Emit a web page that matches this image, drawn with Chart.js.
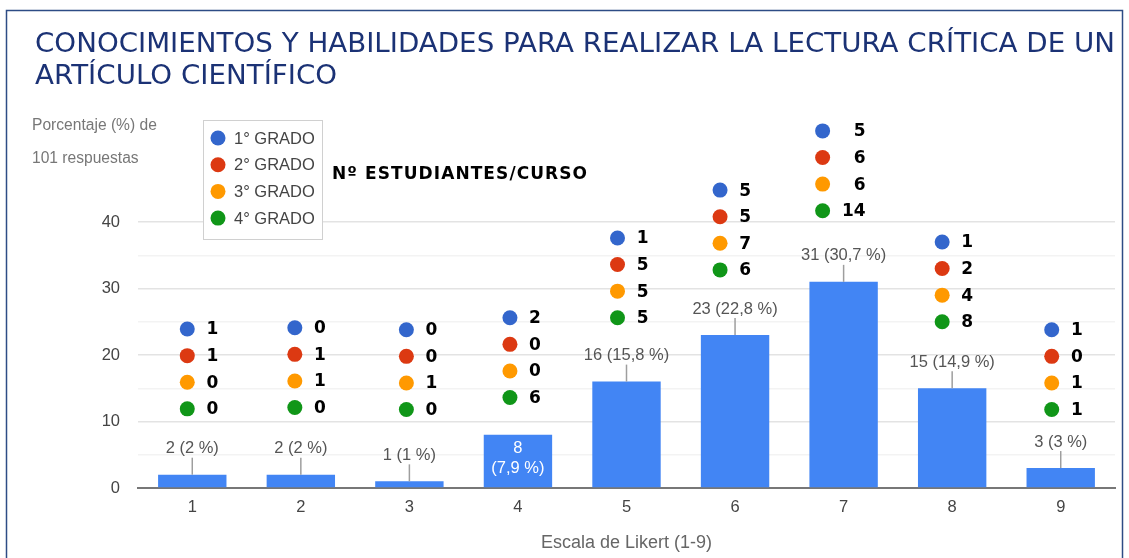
<!DOCTYPE html>
<html lang="es">
<head>
  <meta charset="UTF-8">
  <title>Lectura crítica de un artículo científico</title>
  <script src="https://cdn.jsdelivr.net/npm/chart.js"></script>
  <style>
    html, body { margin: 0; padding: 0; background: #fff; }
    #wrap { width: 1129px; height: 558px; }
  </style>
</head>
<body>
  <div id="wrap"><canvas id="chart" width="1129" height="558"></canvas></div>

  <script>
    // Data
    const categories = ['1', '2', '3', '4', '5', '6', '7', '8', '9'];
    const counts = [2, 2, 1, 8, 16, 23, 31, 15, 3];
    const percents = ['2', '2', '1', '7,9', '15,8', '22,8', '30,7', '14,9', '3'];
    const grado1 = [1, 0, 0, 2, 1, 5, 5, 1, 1];
    const grado2 = [1, 1, 0, 0, 5, 5, 6, 2, 0];
    const grado3 = [0, 1, 1, 0, 5, 7, 6, 4, 1];
    const grado4 = [0, 0, 0, 6, 5, 6, 14, 8, 1];
    const gradoLabels = ['1° GRADO', '2° GRADO', '3° GRADO', '4° GRADO'];
    const yTickValues = [0, 10, 20, 30, 40];

    // Layout of the per-course dot groups (top row in axis units, nudges in px)
    const groupTop = [23.9, 24.1, 23.8, 25.6, 37.6, 44.8, 53.7, 37.0, 23.8];
    const groupDx = [-5, -6, -3, -8, -9, -15, -21, -10, -9];
    const numEdge = [31, 31, 31, 31, 31, 31, 43, 31, 31];
    const labelInside = [false, false, false, true, false, false, false, false, false];

    const gradoColors = ['#3366cc', '#dc3912', '#ff9900', '#109618'];
    const barColor = '#4285f4';
    const titleLines = [
      'CONOCIMIENTOS Y HABILIDADES PARA REALIZAR LA LECTURA CRÍTICA DE UN',
      'ARTÍCULO CIENTÍFICO'
    ];
    const arial = '"Liberation Sans", Arial, sans-serif';
    const verdana = '"DejaVu Sans", Verdana, sans-serif';

    const overlay = {
      id: 'overlay',
      afterDraw(chart) {
        const ctx = chart.ctx;
        const xs = chart.scales.x, ys = chart.scales.y;
        ctx.save();

        // frame
        ctx.strokeStyle = '#2d4c85';
        ctx.lineWidth = 1.5;
        ctx.strokeRect(6.5, 10.5, 1116, 560);

        // title: tall and a bit narrow, squeezed to the reference width
        ctx.font = '26px ' + verdana;
        const w = ctx.measureText(titleLines[0]).width;
        const sx = 1080 / w;
        ctx.fillStyle = '#1b3275';
        ctx.textAlign = 'left';
        ctx.textBaseline = 'alphabetic';
        ctx.save();
        ctx.translate(35, 0);
        ctx.scale(sx, 1);
        ctx.fillText(titleLines[0], 0, 52);
        ctx.fillText(titleLines[1], 0, 84);
        ctx.restore();
        ctx.textBaseline = 'middle';

        // y axis caption
        ctx.font = '15.6px ' + arial;
        ctx.fillStyle = '#777';
        ctx.fillText('Porcentaje (%) de', 32, 126);
        ctx.fillText('101 respuestas', 32, 159);

        // bar value labels
        categories.forEach((c, i) => {
          const cx = xs.getPixelForValue(i);
          const top = ys.getPixelForValue(counts[i]);
          ctx.textAlign = 'center';
          ctx.font = '16.5px ' + arial;
          if (labelInside[i]) {
            ctx.fillStyle = '#fff';
            ctx.fillText(String(counts[i]), cx, top + 14);
            ctx.fillText('(' + percents[i] + ' %)', cx, top + 34);
          } else {
            ctx.strokeStyle = '#9e9e9e';
            ctx.lineWidth = 1.5;
            ctx.beginPath();
            ctx.moveTo(cx, top - 17);
            ctx.lineTo(cx, top);
            ctx.stroke();
            ctx.fillStyle = '#555';
            ctx.fillText(counts[i] + ' (' + percents[i] + ' %)', cx, top - 26);
          }
        });

        // dot groups: students per course
        const grados = [grado1, grado2, grado3, grado4];
        categories.forEach((c, i) => {
          const dx = xs.getPixelForValue(i) + groupDx[i];
          grados.forEach((g, r) => {
            const y = ys.getPixelForValue(groupTop[i] - r * 4);
            ctx.fillStyle = gradoColors[r];
            ctx.beginPath();
            ctx.arc(dx, y, 7.5, 0, Math.PI * 2);
            ctx.fill();
            ctx.fillStyle = '#000';
            ctx.font = 'bold 17px ' + verdana;
            ctx.textAlign = 'right';
            ctx.fillText(String(g[i]), dx + numEdge[i], y + 1);
          });
        });

        // legend box
        ctx.fillStyle = '#fff';
        ctx.fillRect(203, 120, 119, 119);
        ctx.strokeStyle = '#d0d0d0';
        ctx.lineWidth = 1;
        ctx.strokeRect(203.5, 120.5, 119, 119);
        gradoLabels.forEach((lab, r) => {
          const y = 138 + r * 26.7;
          ctx.fillStyle = gradoColors[r];
          ctx.beginPath();
          ctx.arc(218, y, 7.5, 0, Math.PI * 2);
          ctx.fill();
          ctx.fillStyle = '#444';
          ctx.font = '16.5px ' + arial;
          ctx.textAlign = 'left';
          ctx.fillText(lab, 234, y + 1);
        });

        // group caption
        const cap = 'Nº ESTUDIANTES/CURSO';
        ctx.font = 'bold 17px ' + verdana;
        const cw = ctx.measureText(cap).width;
        ctx.letterSpacing = Math.max(0, (255 - cw) / (cap.length - 1)).toFixed(2) + 'px';
        ctx.fillStyle = '#000';
        ctx.textAlign = 'left';
        ctx.fillText(cap, 332, 175);
        ctx.letterSpacing = '0px';

        ctx.restore();
      }
    };

    new Chart(document.getElementById('chart'), {
      type: 'bar',
      data: {
        labels: categories,
        datasets: [{
          data: counts,
          backgroundColor: barColor,
          barPercentage: 0.63,
          categoryPercentage: 1
        }]
      },
      options: {
        responsive: false,
        animation: false,
        layout: { padding: { top: 222, right: 14, bottom: 0, left: 0 } },
        plugins: { legend: { display: false }, tooltip: { enabled: false } },
        scales: {
          x: {
            afterFit: s => { s.height = 70; },
            grid: { display: false, drawTicks: false },
            border: { display: true, color: '#777', width: 2 },
            ticks: { color: '#444', font: { family: arial, size: 16.5 }, padding: 10 },
            title: {
              display: true,
              text: 'Escala de Likert (1-9)',
              color: '#666',
              font: { family: arial, size: 18 },
              padding: { top: 0, bottom: 4 }
            }
          },
          y: {
            min: 0,
            max: 40,
            afterFit: s => { s.width = 138; },
            afterBuildTicks: s => {
              s.ticks = [0, 5, 10, 15, 20, 25, 30, 35, 40].map(v => ({ value: v }));
            },
            grid: {
              drawTicks: false,
              color: c => c.tick.value === 0 ? 'rgba(0,0,0,0)' :
                (yTickValues.includes(c.tick.value) ? '#e3e3e3' : '#f3f3f3'),
              lineWidth: 1.5
            },
            border: { display: false },
            ticks: {
              color: '#444',
              font: { family: arial, size: 16.5 },
              padding: 18,
              callback: v => yTickValues.includes(v) ? v : ''
            }
          }
        }
      },
      plugins: [overlay]
    });
  </script>
</body>
</html>
